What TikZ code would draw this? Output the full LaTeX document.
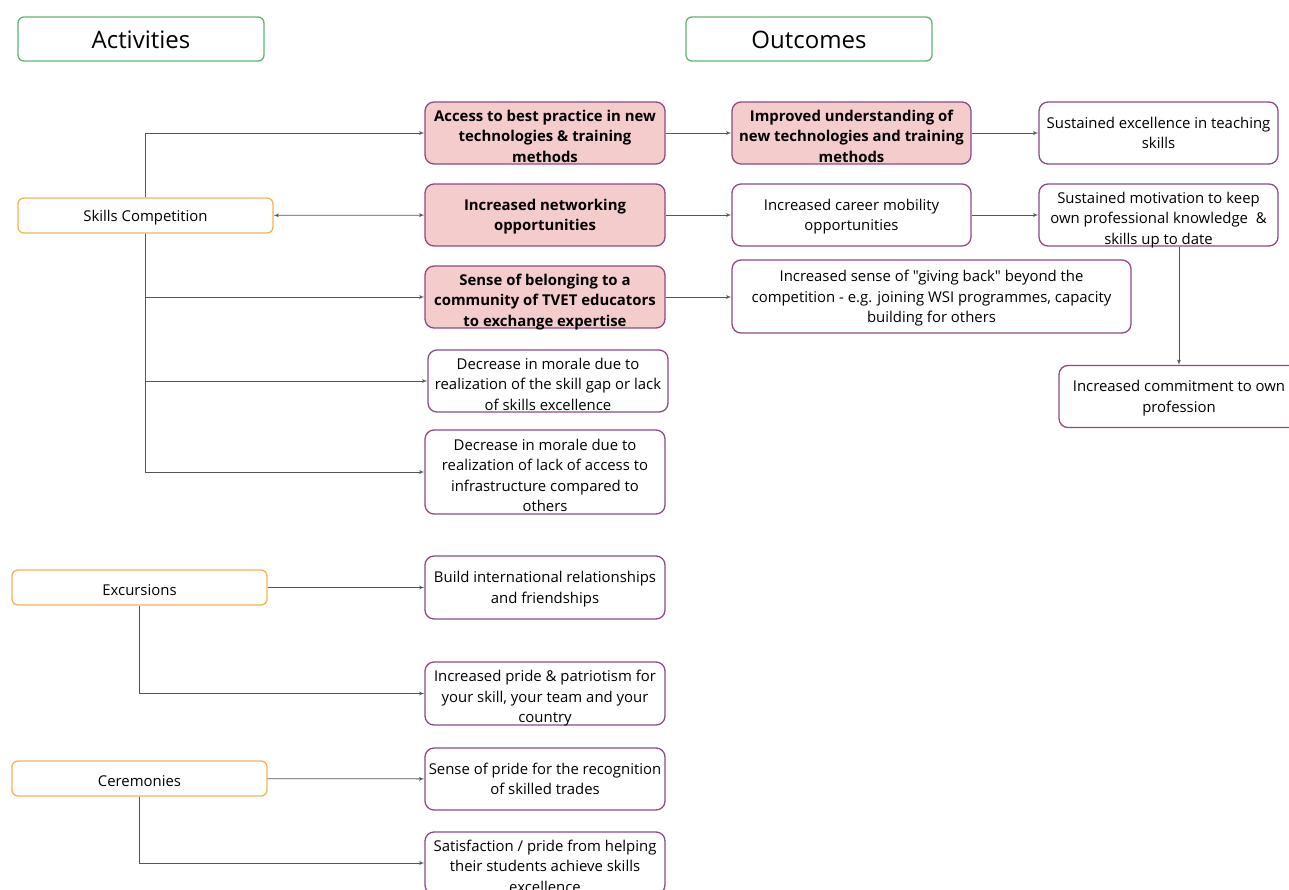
\documentclass[tikz,border=0pt]{standalone}
\usepackage{fontspec}
\setmainfont{Open Sans}[Ligatures=TeXOff]
\usetikzlibrary{arrows}
\definecolor{pinkfill}{HTML}{F4CCCC}
\definecolor{plum}{HTML}{8E4A82}
\definecolor{amber}{HTML}{F8B24E}
\definecolor{leaf}{HTML}{5DB56F}
\definecolor{wire}{HTML}{555555}
\newcommand{\lowstrut}[1]{\rule{0pt}{#1}}
\newcommand{\dn}{\rule{0pt}{17.5pt}}
\tikzstyle{head} = [rectangle, draw=leaf, line width=1.3pt, rounded corners=6pt,
    minimum width=246pt, minimum height=44pt, font=\fontsize{24}{28}\selectfont,
    execute at begin node=\lowstrut{20pt}]
\tikzstyle{activity} = [rectangle, draw=amber, line width=1.3pt, rounded corners=6pt,
    minimum width=255pt, minimum height=35pt, font=\fontsize{14.9}{20.3}\selectfont,
    execute at begin node=\lowstrut{16pt}]
\tikzstyle{outcome} = [rectangle, draw=plum, line width=1.3pt, rounded corners=9pt,
    minimum width=240pt, minimum height=62pt, align=center, inner sep=0pt,
    font=\fontsize{14.9}{20.5}\selectfont, text depth=-1pt]
\tikzstyle{key} = [outcome, fill=pinkfill, font=\fontsize{14.9}{20.5}\selectfont\bfseries]
\tikzstyle{line} = [draw, wire, line width=0.8pt, -latex']

\begin{document}
\begin{tikzpicture}[x=1pt, y=-1pt]
  \useasboundingbox (0,0) rectangle (1289,890);
  \node [head] (acts) at (141,39) {Activities};
  \node [head] (outs) at (809,39) {Outcomes};
  \node [activity] (skills) at (145.5,215.5) {Skills Competition};
  \node [activity] (excur) at (139.5,587.5) {Excursions};
  \node [activity] (cerem) at (139.5,778.5) {Ceremonies};
  \node [key] (access) at (545,133) {\dn Access to best practice in new\\technologies \& training\\methods};
  \node [key] (network) at (545,215) {Increased networking\\opportunities};
  \node [key] (belong) at (545,297) {\dn Sense of belonging to a\\community of TVET educators\\to exchange expertise};
  \node [outcome] (gap) at (548,381) {\dn Decrease in morale due to\\realization of the skill gap or lack\\of skills excellence};
  \node [outcome, minimum height=84pt] (infra) at (545,472) {\dn Decrease in morale due to\\realization of lack of access to\\infrastructure compared to\\others};
  \node [outcome, minimum height=63pt] (friends) at (545,587.5) {Build international relationships\\and friendships};
  \node [outcome, minimum height=63pt] (pride) at (545,693.5) {\dn Increased pride \& patriotism for\\your skill, your team and your\\country};
  \node [outcome] (trades) at (545,779) {Sense of pride for the recognition\\of skilled trades};
  \node [outcome] (helping) at (545,863) {\dn Satisfaction / pride from helping\\their students achieve skills\\excellence};
  \node [key, minimum width=239pt] (understand) at (851.5,133) {\dn Improved understanding of\\new technologies and training\\methods};
  \node [outcome, minimum width=239pt] (career) at (851.5,215) {Increased career mobility\\opportunities};
  \node [outcome, minimum width=399pt, minimum height=73pt] (giving) at (931.5,296.5) {Increased sense of "giving back" beyond the\\competition - e.g. joining WSI programmes, capacity\\building for others};
  \node [outcome, minimum width=239pt] (teaching) at (1158.5,133) {Sustained excellence in teaching\\skills};
  \node [outcome, minimum width=239pt] (motiv) at (1158.5,215) {\dn Sustained motivation to keep\\own professional knowledge \ \&\\skills up to date};
  \node [outcome] (commit) at (1179,396.5) {Increased commitment to own\\profession};
  \path [line] (skills.north) |- (access);
  \path [line, latex'-latex'] (skills) -- (network);
  \path [line] (skills.south) |- (belong);
  \path [line] (skills.south) |- (gap);
  \path [line] (skills.south) |- (infra);
  \path [line] (access) -- (understand);
  \path [line] (network) -- (career);
  \path [line] (belong) -- (giving.west |- belong);
  \path [line] (understand) -- (teaching);
  \path [line] (career) -- (motiv);
  \path [line] (motiv.south -| commit) -- (commit);
  \path [line] (excur) -- (friends);
  \path [line] (excur.south) |- (pride);
  \path [line] (cerem) -- (trades);
  \path [line] (cerem.south) |- (helping);
\end{tikzpicture}
\end{document}
